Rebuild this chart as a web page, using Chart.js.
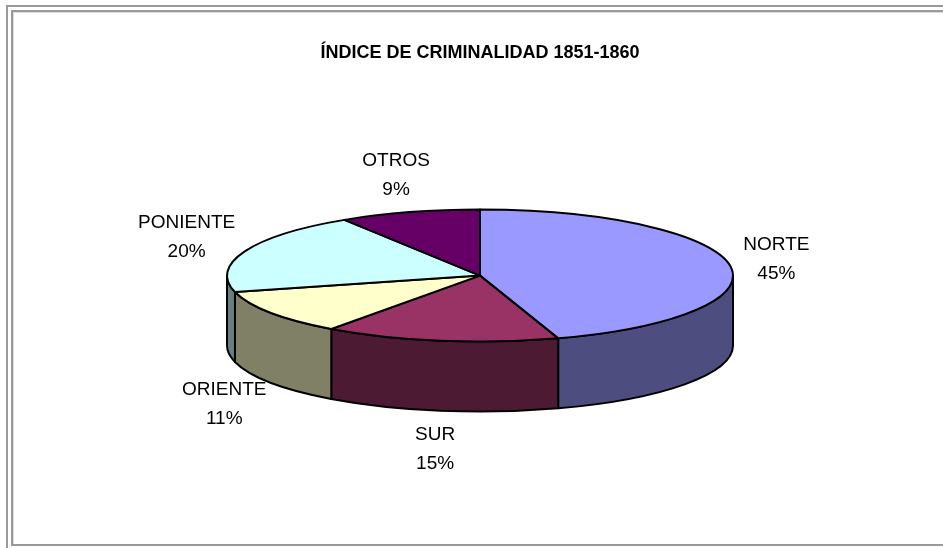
<!DOCTYPE html>
<html><head><meta charset="utf-8">
<script src="https://cdn.jsdelivr.net/npm/chart.js@4.4.1/dist/chart.umd.min.js"></script>
<style>
html,body{margin:0;padding:0;background:#fff;overflow:hidden}
#wrap{position:relative;width:943px;height:548px;overflow:hidden;background:#fff}
canvas{position:absolute;left:0;top:0}
.f1{position:absolute;left:6px;top:5px;width:2000px;height:2000px;border-left:2px solid #999;border-top:2px solid #999}
.f2{position:absolute;left:11px;top:10px;width:2000px;height:532px;border:2px solid #999;border-right:none;box-shadow:inset 1px 1px 0 #ddd}
</style></head>
<body><div id="wrap"><div class="f1"></div><div class="f2"></div><canvas id="c" width="943" height="548"></canvas></div>
<script>
const categories = ['NORTE', 'SUR', 'ORIENTE', 'PONIENTE', 'OTROS'];
const values = [45, 15, 11, 20, 9];
const topColors = ['#9999FF', '#993366', '#FFFFCC', '#CCFFFF', '#660066'];
const sideColors = ['#4D4D80', '#4D1A33', '#808066', '#668080', '#330033'];
const titleText = 'ÍNDICE DE CRIMINALIDAD 1851-1860';

const TILT = 66 / 253, DEPTH = 70 / 253;
const FONT = '"Liberation Sans", Arial, sans-serif';

function geom(chart) {
  const arcs = chart.getDatasetMeta(0).data;
  const a0 = arcs[0];
  const rx = a0.outerRadius;
  return { arcs, cx: a0.x, cy: a0.y, rx, ry: rx * TILT, d: rx * DEPTH };
}

const pie3d = {
  id: 'pie3d',
  beforeDatasetsDraw(chart) {
    const ctx = chart.ctx;
    const { arcs, cx, cy, rx, ry, d } = geom(chart);
    ctx.save();
    ctx.lineWidth = 2; ctx.strokeStyle = '#000'; ctx.lineJoin = 'round';
    arcs.forEach((a, i) => {
      const s = Math.max(a.startAngle, 0), e = Math.min(a.endAngle, Math.PI);
      if (e > s) {
        ctx.beginPath();
        ctx.ellipse(cx, cy, rx, ry, 0, s, e);
        ctx.lineTo(cx + rx * Math.cos(e), cy + d + ry * Math.sin(e));
        ctx.ellipse(cx, cy + d, rx, ry, 0, e, s, true);
        ctx.closePath();
        ctx.fillStyle = sideColors[i]; ctx.fill(); ctx.stroke();
      }
    });
    arcs.forEach((a, i) => {
      ctx.beginPath(); ctx.moveTo(cx, cy);
      ctx.ellipse(cx, cy, rx, ry, 0, a.startAngle, a.endAngle);
      ctx.closePath();
      ctx.fillStyle = a.options.backgroundColor; ctx.fill(); ctx.stroke();
    });
    ctx.restore();
    return false;
  },
  afterDraw(chart) {
    const ctx = chart.ctx;
    const { arcs, cx, cy, rx, ry, d } = geom(chart);
    const total = values.reduce((s, v) => s + v, 0);
    ctx.save();
    ctx.font = '19px ' + FONT;
    ctx.textAlign = 'center'; ctx.textBaseline = 'middle'; ctx.fillStyle = '#000';
    const LH = 29, GX = 14, GY = 17;
    arcs.forEach((a, i) => {
      const m = (a.startAngle + a.endAngle) / 2;
      const c = Math.cos(m), s = Math.sin(m);
      const ax = cx + rx * c, ay = cy + ry * s + (s > 0 ? d : 0);
      const l1 = categories[i], l2 = Math.round(values[i] / total * 100) + '%';
      const w = Math.max(ctx.measureText(l1).width, ctx.measureText(l2).width);
      const h = LH + 14;
      const bx = ax + c * (w / 2 + GX), by = ay + s * (h / 2 + GY);
      ctx.fillText(l1, bx, by - LH / 2);
      ctx.fillText(l2, bx, by + LH / 2);
    });
    ctx.restore();
  }
};

new Chart(document.getElementById('c'), {
  type: 'pie',
  data: { labels: categories, datasets: [{ data: values, backgroundColor: topColors, borderColor: '#000', borderWidth: 2 }] },
  options: {
    responsive: false, animation: false, events: [],
    radius: 253,
    layout: { padding: { left: 20, right: 3, top: 0, bottom: 60.4 } },
    plugins: {
      legend: { display: false },
      tooltip: { enabled: false },
      title: { display: true, text: titleText, color: '#000', font: { family: FONT, size: 18, weight: 'bold', lineHeight: 1.2 }, padding: { top: 42, bottom: 0 } }
    }
  },
  plugins: [pie3d]
});
</script>
</body></html>
